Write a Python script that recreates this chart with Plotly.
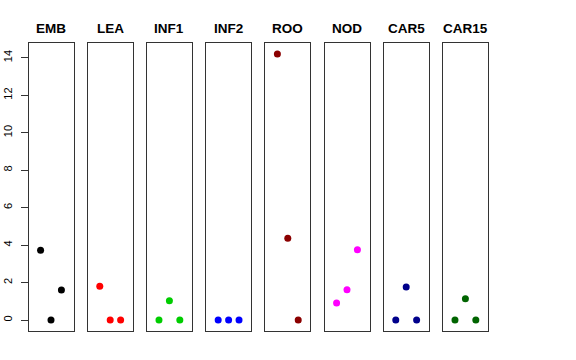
import plotly.graph_objects as go

categories = ["EMB", "LEA", "INF1", "INF2", "ROO", "NOD", "CAR5", "CAR15"]
x_index = [1, 2, 3]
values = {
    "EMB": [3.73, 0.0, 1.60],
    "LEA": [1.81, 0.0, 0.0],
    "INF1": [0.0, 1.03, 0.0],
    "INF2": [0.0, 0.0, 0.0],
    "ROO": [14.2, 4.37, 0.0],
    "NOD": [0.91, 1.62, 3.75],
    "CAR5": [0.0, 1.76, 0.0],
    "CAR15": [0.0, 1.14, 0.0],
}
colors = ["#000000", "#FF0000", "#00CD00", "#0000FF", "#8B0000", "#FF00FF", "#00008B", "#006400"]
y_ticks = [0, 2, 4, 6, 8, 10, 12, 14]

W, H = 576, 360
ML, MR, MT, MB = 26, 60, 20, 20
left0, pitch, pw = 28.5, 59.2, 45.0
top_px, bot_px = 43.3, 330.7
title_px = 29.0
ymin, ymax = -0.568, 14.768


def fx(px):
    return (px - ML) / (W - ML - MR)


def fy(py):
    return (H - MB - py) / (H - MT - MB)


fig = go.Figure()
layout = dict(
    width=W, height=H,
    margin=dict(l=ML, r=MR, t=MT, b=MB, autoexpand=False),
    paper_bgcolor="white", plot_bgcolor="white",
    showlegend=False,
    font=dict(family="Liberation Sans, Arial, sans-serif", color="black"),
)
annotations = []
for i, cat in enumerate(categories):
    n = i + 1
    xa = "x" if n == 1 else f"x{n}"
    ya = "y" if n == 1 else f"y{n}"
    fig.add_trace(go.Scatter(
        x=x_index, y=values[cat], mode="markers",
        marker=dict(color=colors[i], size=7),
        xaxis=xa, yaxis=ya, hoverinfo="skip",
    ))
    l = left0 + pitch * i
    dom_x = [fx(l), fx(l + pw)]
    dom_y = [fy(bot_px), fy(top_px)]
    layout[f"xaxis{'' if n == 1 else n}"] = dict(
        domain=dom_x, range=[-0.16, 4.16], showgrid=False, zeroline=False,
        showticklabels=False, ticks="", showline=True, mirror=True,
        linecolor="#333333", linewidth=1, anchor=ya, fixedrange=True,
        automargin=False,
    )
    ydict = dict(
        domain=dom_y, range=[ymin, ymax], showgrid=False, zeroline=False,
        showline=True, mirror=True, linecolor="#333333", linewidth=1,
        anchor=xa, fixedrange=True, automargin=False,
    )
    if n == 1:
        ydict.update(tickvals=y_ticks, ticktext=[str(v) for v in y_ticks],
                     ticks="outside", ticklen=7, tickcolor="#333333",
                     tickangle=-90, tickfont=dict(size=11), showticklabels=True,
                     ticklabelstandoff=4)
    else:
        ydict.update(showticklabels=False, ticks="")
    layout[f"yaxis{'' if n == 1 else n}"] = ydict
    annotations.append(dict(
        x=fx(l + pw / 2), y=fy(title_px), xref="paper", yref="paper",
        text=f"<b>{cat}</b>", showarrow=False, xanchor="center", yanchor="middle",
        font=dict(size=13.5, color="black"),
    ))
layout["annotations"] = annotations
fig.update_layout(**layout)
fig.write_html("out.html", config={"displayModeBar": False},
               post_script="document.body.style.margin='0px';")
